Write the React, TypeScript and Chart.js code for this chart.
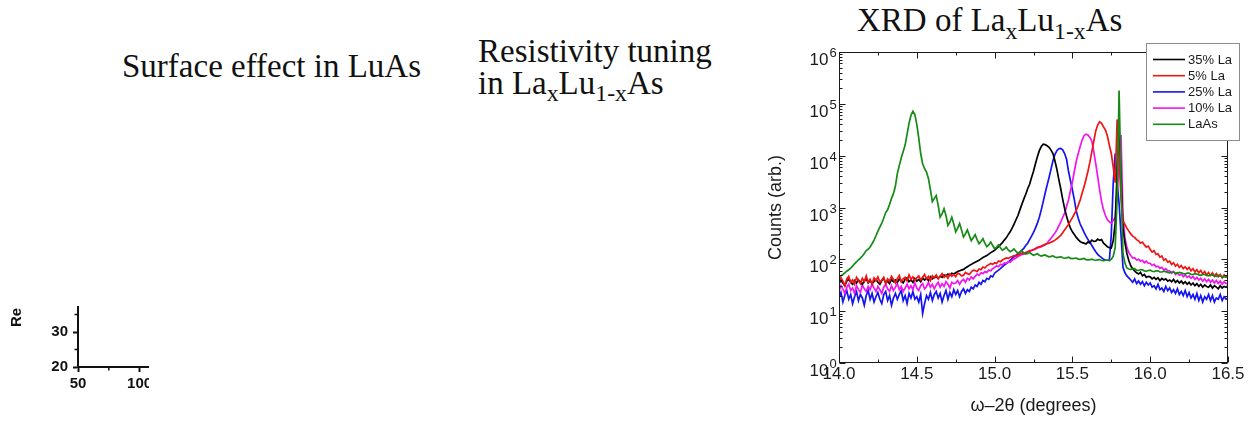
import React, { useEffect, useRef } from 'react';
import { Chart, registerables } from 'chart.js';

Chart.register(...registerables);

// ---------- XRD data (ω–2θ in degrees, counts) ----------
const XS = [
  14, 14.0125, 14.025, 14.0375, 14.05, 14.0625, 14.075, 14.0875, 14.1, 14.1125,
  14.125, 14.1375, 14.15, 14.1625, 14.175, 14.1875, 14.2, 14.2125, 14.225, 14.2375,
  14.25, 14.2625, 14.275, 14.2875, 14.3, 14.3125, 14.325, 14.3375, 14.35, 14.3625,
  14.375, 14.3875, 14.4, 14.4125, 14.425, 14.4375, 14.45, 14.4625, 14.475, 14.4875,
  14.5, 14.5125, 14.525, 14.5375, 14.55, 14.5625, 14.575, 14.5875, 14.6, 14.6125,
  14.625, 14.6375, 14.65, 14.6625, 14.675, 14.6875, 14.7, 14.7125, 14.725, 14.7375,
  14.75, 14.7625, 14.775, 14.7875, 14.8, 14.8125, 14.825, 14.8375, 14.85, 14.8625,
  14.875, 14.8875, 14.9, 14.9125, 14.925, 14.9375, 14.95, 14.9625, 14.975, 14.9875,
  15, 15.0125, 15.025, 15.0375, 15.05, 15.0625, 15.075, 15.0875, 15.1, 15.1125,
  15.125, 15.1375, 15.15, 15.1625, 15.175, 15.1875, 15.2, 15.2125, 15.225, 15.2375,
  15.25, 15.2625, 15.275, 15.2875, 15.3, 15.3125, 15.325, 15.3375, 15.35, 15.3625,
  15.375, 15.3875, 15.4, 15.4125, 15.425, 15.4375, 15.45, 15.4625, 15.475, 15.4875,
  15.5, 15.5125, 15.525, 15.5375, 15.55, 15.5625, 15.575, 15.5875, 15.6, 15.6125,
  15.625, 15.6375, 15.65, 15.6625, 15.675, 15.6875, 15.7, 15.7125, 15.725, 15.7375,
  15.75, 15.7625, 15.775, 15.7875, 15.8, 15.8125, 15.825, 15.8375, 15.85, 15.8625,
  15.875, 15.8875, 15.9, 15.9125, 15.925, 15.9375, 15.95, 15.9625, 15.975, 15.9875,
  16, 16.0125, 16.025, 16.0375, 16.05, 16.0625, 16.075, 16.0875, 16.1, 16.1125,
  16.125, 16.1375, 16.15, 16.1625, 16.175, 16.1875, 16.2, 16.2125, 16.225, 16.2375,
  16.25, 16.2625, 16.275, 16.2875, 16.3, 16.3125, 16.325, 16.3375, 16.35, 16.3625,
  16.375, 16.3875, 16.4, 16.4125, 16.425, 16.4375, 16.45, 16.4625, 16.475, 16.4875,
  16.5,
];

const BLACK_35 = [
  34, 39, 35, 31, 38, 41, 36, 33, 39, 35,
  40, 36, 33, 38, 42, 35, 39, 34, 37, 41,
  36, 33, 39, 43, 35, 38, 34, 41, 37, 40,
  36, 42, 38, 35, 41, 44, 37, 40, 36, 43,
  38, 41, 37, 44, 40, 43, 39, 46, 42, 45,
  46, 43, 47, 45, 50, 48, 52, 49, 54, 52,
  55, 58, 60, 62, 64, 68, 72, 76, 80, 84,
  88, 92, 96, 102, 108, 113, 118, 126, 135, 142,
  150, 162, 175, 192, 210, 235, 260, 300, 340, 400,
  480, 580, 700, 900, 1150, 1450, 1800, 2300, 2800, 3800,
  5000, 7000, 9500, 12500, 15000, 16600, 16300, 15500, 14500, 12800,
  11000, 8000, 5500, 3500, 2300, 1450, 950, 680, 500, 400,
  340, 300, 265, 240, 220, 210, 205, 198, 215, 208,
  235, 222, 225, 245, 232, 240, 205, 190, 175, 168,
  165, 230, 500, 5000, 30000, 4000, 400, 210, 130, 95,
  75, 66, 60, 55, 52, 56, 48, 51, 45, 47,
  46, 42, 45, 41, 44, 39, 43, 40, 42, 38,
  40, 37, 41, 36, 39, 35, 38, 34, 37, 33,
  36, 32, 35, 31, 34, 30, 33, 29, 32, 30,
  29, 32, 28, 31, 29, 27, 31, 28, 30, 29,
  31,
];

const RED_5 = [
  35, 44, 38, 31, 42, 47, 36, 40, 33, 45,
  39, 34, 43, 37, 48, 36, 41, 33, 44, 39,
  46, 36, 40, 45, 34, 42, 38, 47, 41, 35,
  43, 49, 37, 42, 45, 38, 50, 41, 46, 39,
  44, 48, 40, 45, 51, 42, 47, 39, 48, 44,
  50, 42, 47, 53, 45, 49, 43, 52, 47, 51,
  46, 54, 52, 48, 49, 56, 53, 51, 57, 62,
  61, 58, 65, 63, 71, 68, 75, 79, 83, 80,
  86, 83, 93, 90, 97, 101, 106, 104, 110, 113,
  118, 116, 122, 126, 132, 130, 136, 140, 147, 150,
  155, 162, 170, 175, 180, 188, 194, 200, 205, 214,
  222, 235, 250, 268, 290, 325, 370, 415, 470, 550,
  640, 750, 880, 1100, 1400, 1900, 2500, 3500, 5000, 7500,
  12000, 19000, 30000, 39000, 45000, 42000, 36000, 31000, 24000, 16000,
  11000, 6000, 3000, 50000, 9000, 1500, 550, 470, 400, 350,
  310, 280, 265, 240, 228, 205, 215, 190, 172, 180,
  155, 138, 146, 124, 128, 110, 116, 96, 102, 88,
  92, 80, 86, 74, 80, 70, 76, 66, 72, 64,
  70, 60, 66, 57, 63, 55, 61, 52, 58, 50,
  56, 49, 55, 47, 53, 46, 51, 44, 50, 45,
  47,
];

const BLUE_25 = [
  18, 23, 15, 20, 25, 17, 21, 14, 19, 24,
  16, 21, 18, 13, 20, 25, 17, 22, 15, 19,
  23, 17, 14, 21, 24, 16, 20, 13, 18, 22,
  17, 21, 25, 16, 20, 14, 22, 18, 24, 17,
  19, 15, 21, 9, 14, 20, 17, 23, 16, 21,
  24, 18, 22, 15, 20, 25, 17, 23, 19, 26,
  21, 25, 19, 24, 27, 22, 26, 24, 29, 27,
  32, 30, 36, 33, 39, 37, 43, 41, 48, 46,
  54, 58, 62, 66, 72, 77, 83, 88, 96, 104,
  112, 120, 128, 138, 150, 162, 185, 205, 240, 280,
  330, 400, 500, 650, 900, 1300, 1900, 2700, 3800, 5500,
  8000, 10500, 12500, 13600, 13800, 13000, 11000, 8500, 5000, 3300,
  2200, 1400, 850, 620, 480, 400, 330, 280, 240, 215,
  185, 160, 140, 125, 115, 108, 100, 97, 96, 95,
  300, 3000, 11000, 3000, 1200, 300, 70, 55, 48, 44,
  40, 36, 42, 34, 38, 33, 37, 31, 36, 32,
  35, 29, 31, 27, 33, 26, 28, 24, 30, 25,
  28, 23, 26, 22, 27, 21, 24, 20, 25, 19,
  23, 18, 21, 17, 22, 16, 20, 15, 19, 17,
  21, 16, 20, 15, 18, 17, 21, 16, 19, 17,
  18,
];

const MAGENTA_10 = [
  24, 31, 27, 22, 29, 33, 25, 28, 22, 31,
  26, 23, 32, 27, 24, 30, 26, 34, 28, 24,
  30, 26, 22, 29, 33, 27, 24, 31, 25, 29,
  34, 26, 30, 24, 28, 33, 27, 31, 26, 35,
  28, 25, 31, 34, 27, 30, 36, 29, 33, 27,
  32, 36, 29, 34, 30, 37, 33, 28, 36, 34,
  35, 39, 33, 38, 41, 36, 43, 40, 46, 42,
  47, 52, 49, 55, 53, 58, 56, 62, 60, 66,
  70, 75, 72, 80, 78, 85, 83, 90, 88, 96,
  102, 106, 113, 118, 124, 126, 134, 138, 142, 148,
  152, 158, 166, 170, 175, 182, 190, 205, 230, 255,
  285, 320, 370, 440, 520, 640, 780, 1050, 1400, 2100,
  3100, 5000, 7800, 11000, 15000, 20000, 24500, 26000, 25000, 22500,
  19000, 12000, 7000, 4000, 2200, 1300, 900, 700, 580, 530,
  500, 560, 650, 2000, 6000, 25000, 700, 260, 170, 135,
  118, 106, 108, 97, 100, 92, 96, 86, 92, 84,
  84, 76, 80, 72, 74, 67, 70, 62, 66, 60,
  60, 54, 58, 51, 55, 49, 52, 46, 50, 45,
  48, 43, 47, 41, 45, 40, 43, 38, 42, 37,
  41, 36, 40, 35, 39, 34, 38, 33, 37, 34,
  35,
];

const GREEN_LAAS = [
  45, 48, 51, 55, 59, 63, 68, 74, 82, 89,
  98, 106, 116, 130, 148, 156, 172, 200, 235, 285,
  350, 420, 500, 620, 800, 900, 1150, 1500, 1850, 2600,
  4500, 6500, 9000, 12000, 16000, 26000, 42000, 60000, 72000, 62000,
  40000, 22000, 11000, 7000, 5600, 4800, 3600, 2200, 1300, 1500,
  1700, 1100, 650, 750, 950, 700, 450, 520, 650, 480,
  340, 400, 490, 370, 270, 310, 370, 290, 230, 260,
  300, 240, 200, 220, 250, 205, 175, 190, 215, 185,
  160, 170, 190, 168, 150, 158, 172, 152, 140, 148,
  158, 142, 132, 138, 146, 134, 126, 130, 136, 127,
  120, 124, 128, 120, 116, 119, 122, 115, 112, 114,
  117, 111, 108, 110, 113, 107, 105, 107, 110, 104,
  103, 105, 106, 101, 100, 102, 104, 99, 98, 99,
  101, 97, 96, 98, 99, 95, 94, 96, 97, 96,
  100, 115, 170, 1500, 180000, 3000, 130, 85, 68, 65,
  64, 66, 66, 62, 61, 63, 63, 60, 59, 61,
  62, 59, 58, 60, 60, 57, 57, 59, 58, 56,
  55, 57, 57, 54, 54, 56, 55, 53, 52, 54,
  54, 51, 51, 53, 52, 50, 49, 51, 51, 49,
  48, 50, 50, 48, 47, 49, 48, 46, 46, 47,
  47,
];

const SERIES_LABELS = ['35% La', '5% La', '25% La', '10% La', 'LaAs'];
const SERIES_COLORS = ['#000000', '#f01414', '#1414f0', '#f014f0', '#158a15'];
const SERIES_VALUES = [BLACK_35, RED_5, BLUE_25, MAGENTA_10, GREEN_LAAS];
const DRAW_ORDER = [2, 1, 4, 3, 0];

const X_MAJOR = [14.0, 14.5, 15.0, 15.5, 16.0, 16.5];
const X_MINOR = [14.25, 14.75, 15.25, 15.75, 16.25];
const Y_DECADES = [0, 1, 2, 3, 4, 5, 6];
const X_TITLE = 'ω–2θ (degrees)';
const Y_TITLE = 'Counts (arb.)';

// ---------- cropped resistivity panel ----------
const RES_POINTS: { x: number; y: number }[] = [];
const RES_Y_MINOR = [25, 35, 45];
const RES_X_MINOR = [75, 125, 175, 225];
const RES_Y_TITLE = 'Re';

const SANS = '"Liberation Sans", Arial, Helvetica, sans-serif';
const SERIF = '"Liberation Serif", "Times New Roman", Times, serif';

const xrdPlugin = {
  id: 'xrdFrame',
  afterDatasetsDraw(chart: any) {
    const { ctx, chartArea: a, scales } = chart;
    const xs = scales.x;
    const ys = scales.y;
    ctx.save();
    ctx.strokeStyle = '#1a1a1a';
    ctx.lineWidth = 1;
    const L = Math.round(a.left) + 0.5;
    const R = Math.round(a.right) - 0.5;
    const T = Math.round(a.top) + 0.5;
    const B = Math.round(a.bottom) - 0.5;
    ctx.strokeRect(L, T, R - L, B - T);
    ctx.beginPath();
    Y_DECADES.forEach((d) => {
      const p = Math.round(ys.getPixelForValue(Math.pow(10, d))) + 0.5;
      ctx.moveTo(L, p); ctx.lineTo(L + 6, p);
      ctx.moveTo(R, p); ctx.lineTo(R - 6, p);
      if (d < 6) {
        for (let m = 2; m <= 9; m++) {
          const q = Math.round(ys.getPixelForValue(m * Math.pow(10, d))) + 0.5;
          ctx.moveTo(L, q); ctx.lineTo(L + 3, q);
          ctx.moveTo(R, q); ctx.lineTo(R - 3, q);
        }
      }
    });
    X_MAJOR.forEach((v) => {
      const p = Math.round(xs.getPixelForValue(v)) + 0.5;
      ctx.moveTo(p, B); ctx.lineTo(p, B - 6);
      ctx.moveTo(p, T); ctx.lineTo(p, T + 6);
    });
    X_MINOR.forEach((v) => {
      const p = Math.round(xs.getPixelForValue(v)) + 0.5;
      ctx.moveTo(p, B); ctx.lineTo(p, B - 3);
      ctx.moveTo(p, T); ctx.lineTo(p, T + 3);
    });
    ctx.stroke();

    // y tick labels with superscript exponents
    ctx.fillStyle = '#1a1a1a';
    ctx.textBaseline = 'alphabetic';
    Y_DECADES.forEach((d) => {
      const p = ys.getPixelForValue(Math.pow(10, d));
      ctx.font = `17px ${SANS}`;
      ctx.textAlign = 'right';
      ctx.fillText('10', a.left - 10.5, p + 13);
      ctx.font = `13px ${SANS}`;
      ctx.textAlign = 'left';
      ctx.fillText(String(d), a.left - 9.5, p + 5);
    });

    // legend box
    const bx = a.right - 82;
    const by = a.top - 9;
    const bw = 93;
    const bh = 97;
    ctx.fillStyle = '#ffffff';
    ctx.fillRect(bx, by, bw, bh);
    ctx.strokeStyle = '#8c8c8c';
    ctx.lineWidth = 1;
    ctx.strokeRect(bx + 0.5, by + 0.5, bw, bh);
    SERIES_LABELS.forEach((lab, k) => {
      const y = by + 16.5 + 16.2 * k;
      ctx.strokeStyle = SERIES_COLORS[k];
      ctx.lineWidth = 1.6;
      ctx.beginPath();
      ctx.moveTo(bx + 7, y);
      ctx.lineTo(bx + 39, y);
      ctx.stroke();
      ctx.fillStyle = '#1a1a1a';
      ctx.font = `13px ${SANS}`;
      ctx.textAlign = 'left';
      ctx.textBaseline = 'middle';
      ctx.fillText(lab, bx + 42, y + 0.5);
    });
    ctx.restore();
  },
};

const resPlugin = {
  id: 'resExtras',
  afterDraw(chart: any) {
    const { ctx, chartArea: a, scales } = chart;
    ctx.save();
    ctx.strokeStyle = '#111';
    ctx.lineWidth = 1.5;
    ctx.beginPath();
    RES_Y_MINOR.forEach((v) => {
      const p = scales.y.getPixelForValue(v);
      ctx.moveTo(a.left, p); ctx.lineTo(a.left - 3.5, p);
    });
    RES_X_MINOR.forEach((v) => {
      const p = scales.x.getPixelForValue(v);
      ctx.moveTo(p, a.bottom); ctx.lineTo(p, a.bottom + 3.5);
    });
    ctx.stroke();
    ctx.translate(17, a.bottom - 40);
    ctx.rotate(-Math.PI / 2);
    ctx.font = `bold 15px ${SANS}`;
    ctx.fillStyle = '#111';
    ctx.textAlign = 'left';
    ctx.textBaseline = 'middle';
    ctx.fillText(RES_Y_TITLE, 0, 0);
    ctx.restore();
  },
};

function xrdConfig(): any {
  return {
    type: 'line',
    data: {
      datasets: SERIES_VALUES.map((vals, k) => ({
        label: SERIES_LABELS[k],
        data: XS.map((x, i) => ({ x, y: vals[i] })),
        borderColor: SERIES_COLORS[k],
        backgroundColor: SERIES_COLORS[k],
        borderWidth: 1.7,
        pointRadius: 0,
        tension: 0,
        fill: false,
        order: DRAW_ORDER[k],
      })),
    },
    options: {
      responsive: false,
      maintainAspectRatio: false,
      animation: false,
      layout: { padding: { left: 0, right: 24, top: 12, bottom: 0 } },
      plugins: { legend: { display: false }, tooltip: { enabled: false } },
      scales: {
        x: {
          type: 'linear',
          min: 14,
          max: 16.5,
          afterFit: (s: any) => { s.height = 60; },
          ticks: {
            stepSize: 0.5,
            autoSkip: false,
            maxRotation: 0,
            padding: 1,
            color: '#1a1a1a',
            font: { family: SANS, size: 17 },
            callback: (v: any) => Number(v).toFixed(1),
          },
          grid: { display: false, drawTicks: false },
          border: { display: false },
          title: {
            display: true,
            text: X_TITLE,
            color: '#1a1a1a',
            font: { family: SANS, size: 18 },
            padding: { top: 0, bottom: 5.7 },
          },
        },
        y: {
          type: 'logarithmic',
          min: 1,
          max: 1e6,
          afterFit: (s: any) => { s.width = 79; },
          ticks: { display: false },
          grid: { display: false, drawTicks: false },
          border: { display: false },
          title: {
            display: true,
            text: Y_TITLE,
            color: '#1a1a1a',
            font: { family: SANS, size: 18 },
            padding: { top: 5.7, bottom: 0 },
          },
        },
      },
    },
    plugins: [xrdPlugin],
  };
}

function resConfig(): any {
  const axisGrid = {
    display: true,
    drawOnChartArea: false,
    drawTicks: true,
    tickLength: 5,
    tickWidth: 2,
    color: '#111',
  };
  return {
    type: 'line',
    data: {
      datasets: [{
        label: 'Resistivity',
        data: RES_POINTS,
        borderColor: '#111',
        pointRadius: 0,
      }],
    },
    options: {
      responsive: false,
      maintainAspectRatio: false,
      animation: false,
      layout: { padding: { left: 0, right: 14, top: 62, bottom: 0 } },
      plugins: { legend: { display: false }, tooltip: { enabled: false } },
      scales: {
        x: {
          type: 'linear',
          min: 50,
          max: 250,
          afterFit: (s: any) => { s.height = 83; },
          ticks: {
            stepSize: 50,
            padding: 3,
            maxRotation: 0,
            color: '#111',
            font: { family: SANS, size: 15, weight: 'bold' },
          },
          grid: axisGrid,
          border: { display: true, width: 2, color: '#111' },
        },
        y: {
          type: 'linear',
          min: 20,
          max: 50,
          afterFit: (s: any) => { s.width = 78; },
          ticks: {
            stepSize: 10,
            padding: 5,
            color: '#111',
            font: { family: SANS, size: 15, weight: 'bold' },
          },
          grid: axisGrid,
          border: { display: true, width: 2, color: '#111' },
        },
      },
    },
    plugins: [resPlugin],
  };
}

const Sub = ({ children }: { children: React.ReactNode }) => (
  <span style={{ fontSize: '0.72em', position: 'relative', top: '0.3em' }}>{children}</span>
);

export default function App() {
  const xrdRef = useRef<HTMLCanvasElement>(null);
  const resRef = useRef<HTMLCanvasElement>(null);

  useEffect(() => {
    const c1 = new Chart(xrdRef.current as HTMLCanvasElement, xrdConfig());
    const c2 = new Chart(resRef.current as HTMLCanvasElement, resConfig());
    return () => {
      c1.destroy();
      c2.destroy();
    };
  }, []);

  const titleStyle: React.CSSProperties = {
    position: 'absolute',
    fontFamily: SERIF,
    fontSize: 33,
    color: '#111',
    whiteSpace: 'nowrap',
  };

  return (
    <div style={{ position: 'absolute', left: 0, top: 0, width: 1252, height: 423, background: '#fff', overflow: 'hidden' }}>
      <div style={{ ...titleStyle, left: 122, top: 50.4, lineHeight: '33px' }}>Surface effect in LuAs</div>
      <div style={{ ...titleStyle, left: 478, top: 34.8, lineHeight: '32px' }}>
        Resistivity tuning
        <br />
        in La<Sub>x</Sub>Lu<Sub>1-x</Sub>As
      </div>
      <div style={{ ...titleStyle, left: 857, top: 4.4, lineHeight: '33px' }}>
        XRD of La<Sub>x</Sub>Lu<Sub>1-x</Sub>As
      </div>
      <div style={{ position: 'absolute', left: 0, top: 306, width: 149, height: 117, overflow: 'hidden' }}>
        <canvas
          ref={resRef}
          width={340}
          height={250}
          style={{ position: 'absolute', left: 0, top: -106, width: 340, height: 250 }}
        />
      </div>
      <canvas
        ref={xrdRef}
        width={492}
        height={383}
        style={{ position: 'absolute', left: 760, top: 40, width: 492, height: 383 }}
      />
    </div>
  );
}
